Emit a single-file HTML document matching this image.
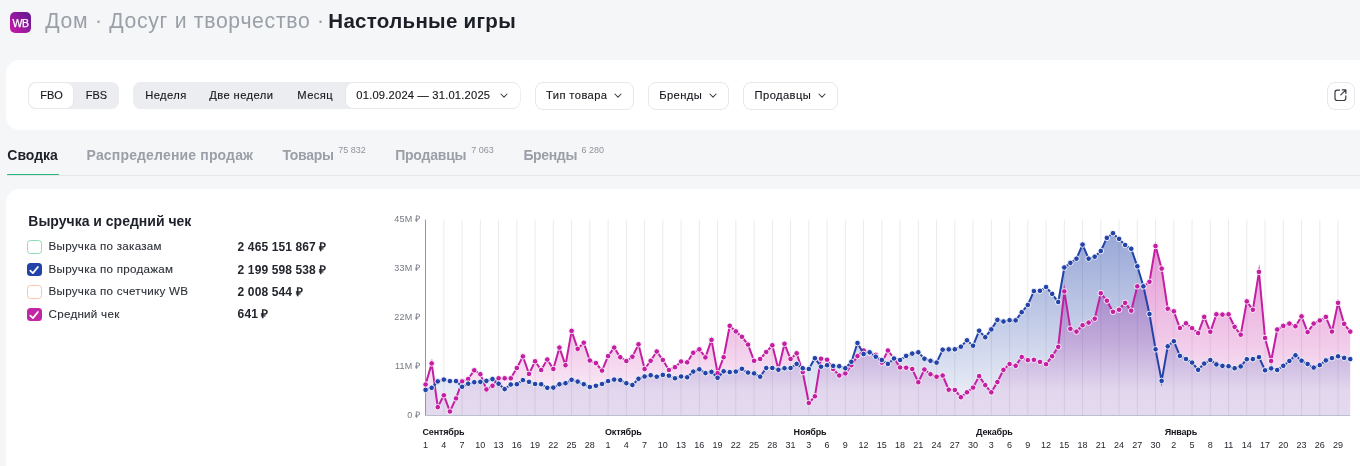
<!DOCTYPE html>
<html lang="ru"><head><meta charset="utf-8"><title>WB</title>
<style>
*{box-sizing:border-box;margin:0;padding:0}
html,body{width:1360px;height:466px;overflow:hidden;background:#f5f6f8;font-family:"Liberation Sans",Arial,sans-serif;color:#1f2229}
.a{position:absolute;white-space:nowrap}
.logo{left:10px;top:11.8px;width:21.3px;height:21.2px;border-radius:5px;background:linear-gradient(45deg,#cb1aa6 0%,#8e1a9c 55%,#5b1a8f 100%);color:#fff;font-weight:400;font-size:10.5px;line-height:23px;text-align:center;letter-spacing:-0.2px;-webkit-text-stroke:0.25px #fff}
.crumb{left:45.3px;top:8.6px;font-size:21.2px;line-height:24px;color:#9aa0a8;letter-spacing:0.7px}
.crumb2{left:328.3px;top:8.8px;font-size:20.5px;line-height:24px;color:#1c1f28;font-weight:700;letter-spacing:0.3px}
.card{background:#fff;border-radius:14px}
.seg{background:#ecedf1;border-radius:7.5px}
.btn{font-size:11.2px;line-height:14px;color:#15171c;letter-spacing:0.4px;-webkit-text-stroke:0.12px #15171c}
.wbtn{background:#fff;border-radius:7px}
.dd{background:#fff;border:1px solid #e7e8ec;border-radius:8px}
.chev{position:absolute}
.tab{font-size:14px;line-height:16px;font-weight:700;color:#9a9fa8}
.tab sup{position:absolute;font-size:9px;font-weight:400;line-height:10px;color:#8f949c}
.cb{width:14.2px;height:13.8px;border-radius:3.5px}
.lg{font-size:11.6px;line-height:14px;color:#2c3038;-webkit-text-stroke:0.1px #2c3038}
.lv{font-size:12px;line-height:14px;color:#23262d;font-weight:700;letter-spacing:0.12px}
.chart{position:absolute;left:0;top:0}
.yl{font-size:9px;fill:#737882;letter-spacing:0.25px;text-anchor:end;font-family:"Liberation Sans",Arial,sans-serif}
.xl{font-size:9px;fill:#25282e;text-anchor:middle;font-family:"Liberation Sans",Arial,sans-serif}
.ml{font-size:9px;fill:#15171c;font-weight:700;letter-spacing:-0.15px;font-family:"Liberation Sans",Arial,sans-serif}
</style></head><body>
<div class="a logo">WB</div>
<div class="a crumb">Дом · Досуг и творчество ·</div><div class="a crumb2">Настольные игры</div>

<div class="a card" style="left:6px;top:60.3px;width:1380px;height:69.9px"></div>
<div class="a seg" style="left:28px;top:82px;width:90.8px;height:27px"></div>
<div class="a wbtn" style="left:29.1px;top:83.1px;width:43.8px;height:24.8px;box-shadow:0 0 0 0.6px #e4e5e9"></div>
<div class="a btn" style="left:40.3px;top:88.2px;font-size:11px;letter-spacing:0">FBO</div>
<div class="a btn" style="left:85.8px;top:88.2px;font-size:11px;letter-spacing:0">FBS</div>

<div class="a seg" style="left:132.9px;top:82px;width:387.6px;height:27px"></div>
<div class="a btn" style="left:145.2px;top:88.2px">Неделя</div>
<div class="a btn" style="left:209.3px;top:88.2px">Две недели</div>
<div class="a btn" style="left:297.3px;top:88.2px">Месяц</div>
<div class="a wbtn" style="left:345.9px;top:83.2px;width:174px;height:24.6px;box-shadow:0 0 0 0.6px #e4e5e9"></div>
<div class="a btn" style="left:356.3px;top:88.2px;letter-spacing:0.2px">01.09.2024 — 31.01.2025</div>
<div class="a" style="left:500px;top:93.2px"><svg class="chev" width="8" height="5" viewBox="0 0 8 5"><path d="M0.9 1 L4 4.1 L7.1 1" fill="none" stroke="#3a3d44" stroke-width="1.05" stroke-linecap="round" stroke-linejoin="round"/></svg></div>

<div class="a dd" style="left:535.2px;top:81.7px;width:99.3px;height:27.9px"></div>
<div class="a btn" style="left:546px;top:88.2px">Тип товара</div>
<div class="a" style="left:614.2px;top:93.2px"><svg class="chev" width="8" height="5" viewBox="0 0 8 5"><path d="M0.9 1 L4 4.1 L7.1 1" fill="none" stroke="#3a3d44" stroke-width="1.05" stroke-linecap="round" stroke-linejoin="round"/></svg></div>
<div class="a dd" style="left:648.3px;top:81.7px;width:80.3px;height:27.9px"></div>
<div class="a btn" style="left:659.2px;top:88.2px">Бренды</div>
<div class="a" style="left:709.2px;top:93.2px"><svg class="chev" width="8" height="5" viewBox="0 0 8 5"><path d="M0.9 1 L4 4.1 L7.1 1" fill="none" stroke="#3a3d44" stroke-width="1.05" stroke-linecap="round" stroke-linejoin="round"/></svg></div>
<div class="a dd" style="left:743.2px;top:81.7px;width:94.6px;height:27.9px"></div>
<div class="a btn" style="left:754.6px;top:88.2px">Продавцы</div>
<div class="a" style="left:817.5px;top:93.2px"><svg class="chev" width="8" height="5" viewBox="0 0 8 5"><path d="M0.9 1 L4 4.1 L7.1 1" fill="none" stroke="#3a3d44" stroke-width="1.05" stroke-linecap="round" stroke-linejoin="round"/></svg></div>

<div class="a dd" style="left:1327.2px;top:81.8px;width:27.5px;height:28px"></div>
<svg class="a" style="left:1333.6px;top:89px" width="13" height="12.5" viewBox="0 0 13 12.5"><path d="M5.6 1.1 H3.2 A2.2 2.2 0 0 0 1 3.3 V9.3 A2.2 2.2 0 0 0 3.2 11.5 H9.6 A2.2 2.2 0 0 0 11.8 9.3 V6.9" fill="none" stroke="#383b41" stroke-width="1.2" stroke-linecap="round"/><path d="M6.8 5.9 L11.9 0.9 M8.3 0.9 H11.9 V4.5" fill="none" stroke="#383b41" stroke-width="1.2" stroke-linecap="round" stroke-linejoin="round"/></svg>

<div class="a tab" style="left:7.3px;top:146.5px;color:#1e212a">Сводка</div>
<div class="a" style="left:6.5px;top:175px;width:1360px;height:1px;background:#e5e6e9"></div>
<div class="a" style="left:6.5px;top:173.8px;width:52.2px;height:1.7px;border-radius:1px;background:#26ba78"></div>
<div class="a tab" style="left:86.6px;top:146.5px;letter-spacing:0.16px">Распределение продаж</div>
<div class="a tab" style="left:282.4px;top:146.5px;letter-spacing:-0.25px">Товары</div>
<div class="a tab" style="left:338.2px;top:144.6px;font-size:9px;font-weight:400;line-height:10px;color:#8f949c">75 832</div>
<div class="a tab" style="left:395.2px;top:146.5px;letter-spacing:-0.22px">Продавцы</div>
<div class="a tab" style="left:471.2px;top:144.6px;font-size:9px;font-weight:400;line-height:10px;color:#8f949c">7 063</div>
<div class="a tab" style="left:523.4px;top:146.5px;letter-spacing:-0.35px">Бренды</div>
<div class="a tab" style="left:581.4px;top:144.6px;font-size:9px;font-weight:400;line-height:10px;color:#8f949c">6 280</div>

<div class="a card" style="left:6px;top:189px;width:1380px;height:300px"></div>
<div class="a" style="left:28.3px;top:212.5px;font-size:14px;line-height:16px;font-weight:700;color:#1e212a">Выручка и средний чек</div>

<div class="a cb" style="left:27.4px;top:240px;border:1.2px solid #8ddcb3"></div>
<div class="a lg" style="left:48.6px;letter-spacing:0.27px;top:239.3px">Выручка по заказам</div>
<div class="a lv" style="left:237.6px;top:240px">2 465 151 867 ₽</div>

<div class="a cb" style="left:27.4px;top:262.6px;background:#2343a8"><svg width="14" height="14" viewBox="0 0 14 14"><path d="M3.3 7.6 L5.9 10.1 L10.9 4" fill="none" stroke="#fff" stroke-width="1.75" stroke-linecap="round" stroke-linejoin="round"/></svg></div>
<div class="a lg" style="left:48.6px;letter-spacing:0.27px;top:261.8px">Выручка по продажам</div>
<div class="a lv" style="left:237.6px;top:262.5px">2 199 598 538 ₽</div>

<div class="a cb" style="left:27.4px;top:285.1px;border:1.2px solid #f7c6ac"></div>
<div class="a lg" style="left:48.6px;letter-spacing:0.27px;top:284.3px">Выручка по счетчику WB</div>
<div class="a lv" style="left:237.6px;top:285px">2 008 544 ₽</div>

<div class="a cb" style="left:27.4px;top:307.5px;background:#c126a5"><svg width="14" height="14" viewBox="0 0 14 14"><path d="M3.3 7.6 L5.9 10.1 L10.9 4" fill="none" stroke="#fff" stroke-width="1.75" stroke-linecap="round" stroke-linejoin="round"/></svg></div>
<div class="a lg" style="left:48.6px;letter-spacing:0.27px;top:306.7px">Средний чек</div>
<div class="a lv" style="left:237.6px;top:307.4px">641 ₽</div>

<svg class="chart" width="1360" height="466" viewBox="0 0 1360 466">
<defs><linearGradient id="gb" gradientUnits="userSpaceOnUse" x1="0" y1="233" x2="0" y2="415"><stop offset="0" stop-color="#2343a8" stop-opacity="0.47"/><stop offset="0.615" stop-color="#2343a8" stop-opacity="0.22"/><stop offset="0.863" stop-color="#2343a8" stop-opacity="0.11"/><stop offset="1" stop-color="#2343a8" stop-opacity="0.1"/></linearGradient><linearGradient id="gm" gradientUnits="userSpaceOnUse" x1="0" y1="246" x2="0" y2="415"><stop offset="0" stop-color="#c41fa2" stop-opacity="0.45"/><stop offset="0.124" stop-color="#c41fa2" stop-opacity="0.40"/><stop offset="0.562" stop-color="#c41fa2" stop-opacity="0.24"/><stop offset="0.627" stop-color="#c41fa2" stop-opacity="0.21"/><stop offset="0.852" stop-color="#c41fa2" stop-opacity="0.10"/><stop offset="1" stop-color="#c41fa2" stop-opacity="0.09"/></linearGradient></defs>
<text x="420.6" y="222.1" class="yl">45M ₽</text>
<text x="420.6" y="271.0" class="yl">33M ₽</text>
<text x="420.6" y="319.8" class="yl">22M ₽</text>
<text x="420.6" y="368.7" class="yl">11M ₽</text>
<text x="420.6" y="417.5" class="yl">0 ₽</text>
<line x1="443.85" y1="219.6" x2="443.85" y2="415" stroke="#ebebee" stroke-width="1"/>
<line x1="462.10" y1="219.6" x2="462.10" y2="415" stroke="#ebebee" stroke-width="1"/>
<line x1="480.35" y1="219.6" x2="480.35" y2="415" stroke="#ebebee" stroke-width="1"/>
<line x1="498.60" y1="219.6" x2="498.60" y2="415" stroke="#ebebee" stroke-width="1"/>
<line x1="516.85" y1="219.6" x2="516.85" y2="415" stroke="#ebebee" stroke-width="1"/>
<line x1="535.09" y1="219.6" x2="535.09" y2="415" stroke="#ebebee" stroke-width="1"/>
<line x1="553.34" y1="219.6" x2="553.34" y2="415" stroke="#ebebee" stroke-width="1"/>
<line x1="571.59" y1="219.6" x2="571.59" y2="415" stroke="#ebebee" stroke-width="1"/>
<line x1="589.84" y1="219.6" x2="589.84" y2="415" stroke="#ebebee" stroke-width="1"/>
<line x1="608.09" y1="219.6" x2="608.09" y2="415" stroke="#ebebee" stroke-width="1"/>
<line x1="626.34" y1="219.6" x2="626.34" y2="415" stroke="#ebebee" stroke-width="1"/>
<line x1="644.59" y1="219.6" x2="644.59" y2="415" stroke="#ebebee" stroke-width="1"/>
<line x1="662.84" y1="219.6" x2="662.84" y2="415" stroke="#ebebee" stroke-width="1"/>
<line x1="681.09" y1="219.6" x2="681.09" y2="415" stroke="#ebebee" stroke-width="1"/>
<line x1="699.34" y1="219.6" x2="699.34" y2="415" stroke="#ebebee" stroke-width="1"/>
<line x1="717.58" y1="219.6" x2="717.58" y2="415" stroke="#ebebee" stroke-width="1"/>
<line x1="735.83" y1="219.6" x2="735.83" y2="415" stroke="#ebebee" stroke-width="1"/>
<line x1="754.08" y1="219.6" x2="754.08" y2="415" stroke="#ebebee" stroke-width="1"/>
<line x1="772.33" y1="219.6" x2="772.33" y2="415" stroke="#ebebee" stroke-width="1"/>
<line x1="790.58" y1="219.6" x2="790.58" y2="415" stroke="#ebebee" stroke-width="1"/>
<line x1="808.83" y1="219.6" x2="808.83" y2="415" stroke="#ebebee" stroke-width="1"/>
<line x1="827.08" y1="219.6" x2="827.08" y2="415" stroke="#ebebee" stroke-width="1"/>
<line x1="845.33" y1="219.6" x2="845.33" y2="415" stroke="#ebebee" stroke-width="1"/>
<line x1="863.58" y1="219.6" x2="863.58" y2="415" stroke="#ebebee" stroke-width="1"/>
<line x1="881.83" y1="219.6" x2="881.83" y2="415" stroke="#ebebee" stroke-width="1"/>
<line x1="900.07" y1="219.6" x2="900.07" y2="415" stroke="#ebebee" stroke-width="1"/>
<line x1="918.32" y1="219.6" x2="918.32" y2="415" stroke="#ebebee" stroke-width="1"/>
<line x1="936.57" y1="219.6" x2="936.57" y2="415" stroke="#ebebee" stroke-width="1"/>
<line x1="954.82" y1="219.6" x2="954.82" y2="415" stroke="#ebebee" stroke-width="1"/>
<line x1="973.07" y1="219.6" x2="973.07" y2="415" stroke="#ebebee" stroke-width="1"/>
<line x1="991.32" y1="219.6" x2="991.32" y2="415" stroke="#ebebee" stroke-width="1"/>
<line x1="1009.57" y1="219.6" x2="1009.57" y2="415" stroke="#ebebee" stroke-width="1"/>
<line x1="1027.82" y1="219.6" x2="1027.82" y2="415" stroke="#ebebee" stroke-width="1"/>
<line x1="1046.07" y1="219.6" x2="1046.07" y2="415" stroke="#ebebee" stroke-width="1"/>
<line x1="1064.32" y1="219.6" x2="1064.32" y2="415" stroke="#ebebee" stroke-width="1"/>
<line x1="1082.56" y1="219.6" x2="1082.56" y2="415" stroke="#ebebee" stroke-width="1"/>
<line x1="1100.81" y1="219.6" x2="1100.81" y2="415" stroke="#ebebee" stroke-width="1"/>
<line x1="1119.06" y1="219.6" x2="1119.06" y2="415" stroke="#ebebee" stroke-width="1"/>
<line x1="1137.31" y1="219.6" x2="1137.31" y2="415" stroke="#ebebee" stroke-width="1"/>
<line x1="1155.56" y1="219.6" x2="1155.56" y2="415" stroke="#ebebee" stroke-width="1"/>
<line x1="1173.81" y1="219.6" x2="1173.81" y2="415" stroke="#ebebee" stroke-width="1"/>
<line x1="1192.06" y1="219.6" x2="1192.06" y2="415" stroke="#ebebee" stroke-width="1"/>
<line x1="1210.31" y1="219.6" x2="1210.31" y2="415" stroke="#ebebee" stroke-width="1"/>
<line x1="1228.56" y1="219.6" x2="1228.56" y2="415" stroke="#ebebee" stroke-width="1"/>
<line x1="1246.81" y1="219.6" x2="1246.81" y2="415" stroke="#ebebee" stroke-width="1"/>
<line x1="1265.05" y1="219.6" x2="1265.05" y2="415" stroke="#ebebee" stroke-width="1"/>
<line x1="1283.30" y1="219.6" x2="1283.30" y2="415" stroke="#ebebee" stroke-width="1"/>
<line x1="1301.55" y1="219.6" x2="1301.55" y2="415" stroke="#ebebee" stroke-width="1"/>
<line x1="1319.80" y1="219.6" x2="1319.80" y2="415" stroke="#ebebee" stroke-width="1"/>
<line x1="1338.05" y1="219.6" x2="1338.05" y2="415" stroke="#ebebee" stroke-width="1"/>
<polygon points="425.60,415.0 425.60,384.5 431.68,363.4 437.77,407.1 443.85,395.3 449.93,411.5 456.02,398.4 462.10,381.4 468.18,379.0 474.26,370.3 480.35,374.2 486.43,389.4 492.51,385.8 498.60,378.3 504.68,378.3 510.76,378.3 516.85,368.0 522.93,356.4 529.01,373.9 535.09,361.3 541.18,370.0 547.26,359.5 553.34,369.0 559.43,347.6 565.51,365.2 571.59,330.9 577.68,348.9 583.76,342.7 589.84,360.5 595.92,363.1 602.01,370.6 608.09,356.1 614.17,347.6 620.26,357.2 626.34,361.0 632.42,356.7 638.50,344.3 644.59,369.0 650.67,360.8 656.75,351.5 662.84,360.0 668.92,370.0 675.00,367.2 681.09,361.5 687.17,362.3 693.25,352.8 699.34,349.4 705.42,357.4 711.50,339.9 717.58,373.1 723.67,357.2 729.75,325.8 735.83,331.4 741.92,336.8 748.00,344.6 754.08,360.8 760.16,359.0 766.25,352.0 772.33,345.3 778.41,369.3 784.50,343.8 790.58,359.0 796.66,353.3 802.75,372.1 808.83,403.0 814.91,396.3 821.00,358.7 827.08,359.7 833.16,369.0 839.24,375.5 845.33,373.4 851.41,365.2 857.49,356.1 863.58,350.5 869.66,352.8 875.74,354.9 881.83,362.6 887.91,350.5 893.99,358.0 900.07,367.5 906.16,367.7 912.24,369.0 918.32,382.2 924.41,369.5 930.49,374.2 936.57,376.7 942.66,375.5 948.74,389.7 954.82,390.0 960.90,397.2 966.99,392.3 973.07,387.6 979.15,376.1 985.24,385.1 991.32,392.3 997.40,382.0 1003.49,369.9 1009.57,364.0 1015.65,365.8 1021.73,357.0 1027.82,360.1 1033.90,359.8 1039.98,361.9 1046.07,364.2 1052.15,356.2 1058.23,346.9 1064.32,291.4 1070.40,328.8 1076.48,331.6 1082.56,325.2 1088.65,322.6 1094.73,318.7 1100.81,293.2 1106.90,300.7 1112.98,311.8 1119.06,309.7 1125.14,302.9 1131.23,310.7 1137.31,286.3 1143.39,286.5 1149.48,281.8 1155.56,246.0 1161.64,268.6 1167.73,308.7 1173.81,311.3 1179.89,328.0 1185.97,323.3 1192.06,328.2 1198.14,333.1 1204.22,316.9 1210.31,331.8 1216.39,314.3 1222.47,314.6 1228.56,314.3 1234.64,326.9 1240.72,334.7 1246.81,301.4 1252.89,309.8 1258.97,271.9 1265.05,338.0 1271.14,361.0 1277.22,329.5 1283.30,325.9 1289.39,323.6 1295.47,326.2 1301.55,316.4 1307.64,332.1 1313.72,323.6 1319.80,320.5 1325.88,316.9 1331.97,331.6 1338.05,302.8 1344.13,323.9 1350.22,331.6 1350.22,415.0" fill="url(#gm)"/>
<polygon points="425.60,415.0 425.60,389.9 431.68,387.8 437.77,381.4 443.85,379.6 449.93,381.1 456.02,381.1 462.10,386.8 468.18,383.7 474.26,382.2 480.35,381.9 486.43,380.9 492.51,379.1 498.60,383.7 504.68,389.1 510.76,384.5 516.85,384.2 522.93,380.1 529.01,381.9 535.09,384.0 541.18,384.2 547.26,387.8 553.34,387.6 559.43,384.2 565.51,383.2 571.59,379.8 577.68,381.6 583.76,384.2 589.84,387.0 595.92,385.8 602.01,384.0 608.09,381.1 614.17,379.6 620.26,380.1 626.34,383.2 632.42,385.0 638.50,378.8 644.59,376.5 650.67,375.2 656.75,376.7 662.84,374.9 668.92,375.7 675.00,378.3 681.09,376.5 687.17,377.3 693.25,371.6 699.34,369.3 705.42,373.1 711.50,371.9 717.58,377.8 723.67,371.3 729.75,372.1 735.83,371.6 741.92,368.8 748.00,372.6 754.08,373.4 760.16,376.7 766.25,368.0 772.33,368.0 778.41,369.8 784.50,368.2 790.58,368.0 796.66,363.9 802.75,368.2 808.83,369.0 814.91,358.2 821.00,366.7 827.08,365.2 833.16,365.9 839.24,366.2 845.33,368.2 851.41,361.8 857.49,343.0 863.58,354.0 869.66,352.3 875.74,356.7 881.83,360.0 887.91,363.9 893.99,358.5 900.07,360.0 906.16,355.9 912.24,353.6 918.32,352.3 924.41,358.7 930.49,360.8 936.57,362.6 942.66,349.7 948.74,349.4 954.82,349.3 960.90,346.7 966.99,340.3 973.07,345.7 979.15,330.7 985.24,337.2 991.32,329.4 997.40,319.9 1003.49,321.5 1009.57,320.2 1015.65,320.4 1021.73,312.2 1027.82,305.0 1033.90,291.1 1039.98,290.8 1046.07,287.0 1052.15,293.9 1058.23,302.0 1064.32,267.5 1070.40,262.9 1076.48,258.7 1082.56,244.6 1088.65,258.7 1094.73,256.7 1100.81,251.0 1106.90,237.9 1112.98,233.2 1119.06,238.9 1125.14,245.0 1131.23,248.8 1137.31,266.3 1143.39,286.3 1149.48,314.0 1155.56,349.3 1161.64,380.9 1167.73,346.3 1173.81,341.2 1179.89,355.9 1185.97,359.0 1192.06,362.6 1198.14,369.8 1204.22,363.6 1210.31,360.0 1216.39,364.4 1222.47,365.9 1228.56,366.2 1234.64,368.2 1240.72,366.4 1246.81,359.2 1252.89,359.1 1258.97,357.1 1265.05,370.3 1271.14,368.4 1277.22,370.0 1283.30,365.8 1289.39,361.0 1295.47,355.3 1301.55,360.7 1307.64,364.0 1313.72,367.6 1319.80,365.1 1325.88,360.4 1331.97,358.1 1338.05,356.3 1344.13,357.9 1350.22,359.1 1350.22,415.0" fill="url(#gb)"/>
<line x1="425.5" y1="219.6" x2="425.5" y2="415.5" stroke="#8e97a8" stroke-width="1"/>
<line x1="425" y1="415.5" x2="1350.2" y2="415.5" stroke="#b9c0cc" stroke-width="1"/>
<polyline points="425.60,384.5 431.68,363.4 437.77,407.1 443.85,395.3 449.93,411.5 456.02,398.4 462.10,381.4 468.18,379.0 474.26,370.3 480.35,374.2 486.43,389.4 492.51,385.8 498.60,378.3 504.68,378.3 510.76,378.3 516.85,368.0 522.93,356.4 529.01,373.9 535.09,361.3 541.18,370.0 547.26,359.5 553.34,369.0 559.43,347.6 565.51,365.2 571.59,330.9 577.68,348.9 583.76,342.7 589.84,360.5 595.92,363.1 602.01,370.6 608.09,356.1 614.17,347.6 620.26,357.2 626.34,361.0 632.42,356.7 638.50,344.3 644.59,369.0 650.67,360.8 656.75,351.5 662.84,360.0 668.92,370.0 675.00,367.2 681.09,361.5 687.17,362.3 693.25,352.8 699.34,349.4 705.42,357.4 711.50,339.9 717.58,373.1 723.67,357.2 729.75,325.8 735.83,331.4 741.92,336.8 748.00,344.6 754.08,360.8 760.16,359.0 766.25,352.0 772.33,345.3 778.41,369.3 784.50,343.8 790.58,359.0 796.66,353.3 802.75,372.1 808.83,403.0 814.91,396.3 821.00,358.7 827.08,359.7 833.16,369.0 839.24,375.5 845.33,373.4 851.41,365.2 857.49,356.1 863.58,350.5 869.66,352.8 875.74,354.9 881.83,362.6 887.91,350.5 893.99,358.0 900.07,367.5 906.16,367.7 912.24,369.0 918.32,382.2 924.41,369.5 930.49,374.2 936.57,376.7 942.66,375.5 948.74,389.7 954.82,390.0 960.90,397.2 966.99,392.3 973.07,387.6 979.15,376.1 985.24,385.1 991.32,392.3 997.40,382.0 1003.49,369.9 1009.57,364.0 1015.65,365.8 1021.73,357.0 1027.82,360.1 1033.90,359.8 1039.98,361.9 1046.07,364.2 1052.15,356.2 1058.23,346.9 1064.32,291.4 1070.40,328.8 1076.48,331.6 1082.56,325.2 1088.65,322.6 1094.73,318.7 1100.81,293.2 1106.90,300.7 1112.98,311.8 1119.06,309.7 1125.14,302.9 1131.23,310.7 1137.31,286.3 1143.39,286.5 1149.48,281.8 1155.56,246.0 1161.64,268.6 1167.73,308.7 1173.81,311.3 1179.89,328.0 1185.97,323.3 1192.06,328.2 1198.14,333.1 1204.22,316.9 1210.31,331.8 1216.39,314.3 1222.47,314.6 1228.56,314.3 1234.64,326.9 1240.72,334.7 1246.81,301.4 1252.89,309.8 1258.97,271.9 1265.05,338.0 1271.14,361.0 1277.22,329.5 1283.30,325.9 1289.39,323.6 1295.47,326.2 1301.55,316.4 1307.64,332.1 1313.72,323.6 1319.80,320.5 1325.88,316.9 1331.97,331.6 1338.05,302.8 1344.13,323.9 1350.22,331.6" fill="none" stroke="#c41fa2" stroke-width="2" stroke-linejoin="miter" stroke-miterlimit="10"/>
<circle cx="425.60" cy="384.5" r="2.8" fill="#c41fa2" stroke="#fff" stroke-width="0.9"/>
<circle cx="431.68" cy="363.4" r="2.8" fill="#c41fa2" stroke="#fff" stroke-width="0.9"/>
<circle cx="437.77" cy="407.1" r="2.8" fill="#c41fa2" stroke="#fff" stroke-width="0.9"/>
<circle cx="443.85" cy="395.3" r="2.8" fill="#c41fa2" stroke="#fff" stroke-width="0.9"/>
<circle cx="449.93" cy="411.5" r="2.8" fill="#c41fa2" stroke="#fff" stroke-width="0.9"/>
<circle cx="456.02" cy="398.4" r="2.8" fill="#c41fa2" stroke="#fff" stroke-width="0.9"/>
<circle cx="462.10" cy="381.4" r="2.8" fill="#c41fa2" stroke="#fff" stroke-width="0.9"/>
<circle cx="468.18" cy="379.0" r="2.8" fill="#c41fa2" stroke="#fff" stroke-width="0.9"/>
<circle cx="474.26" cy="370.3" r="2.8" fill="#c41fa2" stroke="#fff" stroke-width="0.9"/>
<circle cx="480.35" cy="374.2" r="2.8" fill="#c41fa2" stroke="#fff" stroke-width="0.9"/>
<circle cx="486.43" cy="389.4" r="2.8" fill="#c41fa2" stroke="#fff" stroke-width="0.9"/>
<circle cx="492.51" cy="385.8" r="2.8" fill="#c41fa2" stroke="#fff" stroke-width="0.9"/>
<circle cx="498.60" cy="378.3" r="2.8" fill="#c41fa2" stroke="#fff" stroke-width="0.9"/>
<circle cx="504.68" cy="378.3" r="2.8" fill="#c41fa2" stroke="#fff" stroke-width="0.9"/>
<circle cx="510.76" cy="378.3" r="2.8" fill="#c41fa2" stroke="#fff" stroke-width="0.9"/>
<circle cx="516.85" cy="368.0" r="2.8" fill="#c41fa2" stroke="#fff" stroke-width="0.9"/>
<circle cx="522.93" cy="356.4" r="2.8" fill="#c41fa2" stroke="#fff" stroke-width="0.9"/>
<circle cx="529.01" cy="373.9" r="2.8" fill="#c41fa2" stroke="#fff" stroke-width="0.9"/>
<circle cx="535.09" cy="361.3" r="2.8" fill="#c41fa2" stroke="#fff" stroke-width="0.9"/>
<circle cx="541.18" cy="370.0" r="2.8" fill="#c41fa2" stroke="#fff" stroke-width="0.9"/>
<circle cx="547.26" cy="359.5" r="2.8" fill="#c41fa2" stroke="#fff" stroke-width="0.9"/>
<circle cx="553.34" cy="369.0" r="2.8" fill="#c41fa2" stroke="#fff" stroke-width="0.9"/>
<circle cx="559.43" cy="347.6" r="2.8" fill="#c41fa2" stroke="#fff" stroke-width="0.9"/>
<circle cx="565.51" cy="365.2" r="2.8" fill="#c41fa2" stroke="#fff" stroke-width="0.9"/>
<circle cx="571.59" cy="330.9" r="2.8" fill="#c41fa2" stroke="#fff" stroke-width="0.9"/>
<circle cx="577.68" cy="348.9" r="2.8" fill="#c41fa2" stroke="#fff" stroke-width="0.9"/>
<circle cx="583.76" cy="342.7" r="2.8" fill="#c41fa2" stroke="#fff" stroke-width="0.9"/>
<circle cx="589.84" cy="360.5" r="2.8" fill="#c41fa2" stroke="#fff" stroke-width="0.9"/>
<circle cx="595.92" cy="363.1" r="2.8" fill="#c41fa2" stroke="#fff" stroke-width="0.9"/>
<circle cx="602.01" cy="370.6" r="2.8" fill="#c41fa2" stroke="#fff" stroke-width="0.9"/>
<circle cx="608.09" cy="356.1" r="2.8" fill="#c41fa2" stroke="#fff" stroke-width="0.9"/>
<circle cx="614.17" cy="347.6" r="2.8" fill="#c41fa2" stroke="#fff" stroke-width="0.9"/>
<circle cx="620.26" cy="357.2" r="2.8" fill="#c41fa2" stroke="#fff" stroke-width="0.9"/>
<circle cx="626.34" cy="361.0" r="2.8" fill="#c41fa2" stroke="#fff" stroke-width="0.9"/>
<circle cx="632.42" cy="356.7" r="2.8" fill="#c41fa2" stroke="#fff" stroke-width="0.9"/>
<circle cx="638.50" cy="344.3" r="2.8" fill="#c41fa2" stroke="#fff" stroke-width="0.9"/>
<circle cx="644.59" cy="369.0" r="2.8" fill="#c41fa2" stroke="#fff" stroke-width="0.9"/>
<circle cx="650.67" cy="360.8" r="2.8" fill="#c41fa2" stroke="#fff" stroke-width="0.9"/>
<circle cx="656.75" cy="351.5" r="2.8" fill="#c41fa2" stroke="#fff" stroke-width="0.9"/>
<circle cx="662.84" cy="360.0" r="2.8" fill="#c41fa2" stroke="#fff" stroke-width="0.9"/>
<circle cx="668.92" cy="370.0" r="2.8" fill="#c41fa2" stroke="#fff" stroke-width="0.9"/>
<circle cx="675.00" cy="367.2" r="2.8" fill="#c41fa2" stroke="#fff" stroke-width="0.9"/>
<circle cx="681.09" cy="361.5" r="2.8" fill="#c41fa2" stroke="#fff" stroke-width="0.9"/>
<circle cx="687.17" cy="362.3" r="2.8" fill="#c41fa2" stroke="#fff" stroke-width="0.9"/>
<circle cx="693.25" cy="352.8" r="2.8" fill="#c41fa2" stroke="#fff" stroke-width="0.9"/>
<circle cx="699.34" cy="349.4" r="2.8" fill="#c41fa2" stroke="#fff" stroke-width="0.9"/>
<circle cx="705.42" cy="357.4" r="2.8" fill="#c41fa2" stroke="#fff" stroke-width="0.9"/>
<circle cx="711.50" cy="339.9" r="2.8" fill="#c41fa2" stroke="#fff" stroke-width="0.9"/>
<circle cx="717.58" cy="373.1" r="2.8" fill="#c41fa2" stroke="#fff" stroke-width="0.9"/>
<circle cx="723.67" cy="357.2" r="2.8" fill="#c41fa2" stroke="#fff" stroke-width="0.9"/>
<circle cx="729.75" cy="325.8" r="2.8" fill="#c41fa2" stroke="#fff" stroke-width="0.9"/>
<circle cx="735.83" cy="331.4" r="2.8" fill="#c41fa2" stroke="#fff" stroke-width="0.9"/>
<circle cx="741.92" cy="336.8" r="2.8" fill="#c41fa2" stroke="#fff" stroke-width="0.9"/>
<circle cx="748.00" cy="344.6" r="2.8" fill="#c41fa2" stroke="#fff" stroke-width="0.9"/>
<circle cx="754.08" cy="360.8" r="2.8" fill="#c41fa2" stroke="#fff" stroke-width="0.9"/>
<circle cx="760.16" cy="359.0" r="2.8" fill="#c41fa2" stroke="#fff" stroke-width="0.9"/>
<circle cx="766.25" cy="352.0" r="2.8" fill="#c41fa2" stroke="#fff" stroke-width="0.9"/>
<circle cx="772.33" cy="345.3" r="2.8" fill="#c41fa2" stroke="#fff" stroke-width="0.9"/>
<circle cx="778.41" cy="369.3" r="2.8" fill="#c41fa2" stroke="#fff" stroke-width="0.9"/>
<circle cx="784.50" cy="343.8" r="2.8" fill="#c41fa2" stroke="#fff" stroke-width="0.9"/>
<circle cx="790.58" cy="359.0" r="2.8" fill="#c41fa2" stroke="#fff" stroke-width="0.9"/>
<circle cx="796.66" cy="353.3" r="2.8" fill="#c41fa2" stroke="#fff" stroke-width="0.9"/>
<circle cx="802.75" cy="372.1" r="2.8" fill="#c41fa2" stroke="#fff" stroke-width="0.9"/>
<circle cx="808.83" cy="403.0" r="2.8" fill="#c41fa2" stroke="#fff" stroke-width="0.9"/>
<circle cx="814.91" cy="396.3" r="2.8" fill="#c41fa2" stroke="#fff" stroke-width="0.9"/>
<circle cx="821.00" cy="358.7" r="2.8" fill="#c41fa2" stroke="#fff" stroke-width="0.9"/>
<circle cx="827.08" cy="359.7" r="2.8" fill="#c41fa2" stroke="#fff" stroke-width="0.9"/>
<circle cx="833.16" cy="369.0" r="2.8" fill="#c41fa2" stroke="#fff" stroke-width="0.9"/>
<circle cx="839.24" cy="375.5" r="2.8" fill="#c41fa2" stroke="#fff" stroke-width="0.9"/>
<circle cx="845.33" cy="373.4" r="2.8" fill="#c41fa2" stroke="#fff" stroke-width="0.9"/>
<circle cx="851.41" cy="365.2" r="2.8" fill="#c41fa2" stroke="#fff" stroke-width="0.9"/>
<circle cx="857.49" cy="356.1" r="2.8" fill="#c41fa2" stroke="#fff" stroke-width="0.9"/>
<circle cx="863.58" cy="350.5" r="2.8" fill="#c41fa2" stroke="#fff" stroke-width="0.9"/>
<circle cx="869.66" cy="352.8" r="2.8" fill="#c41fa2" stroke="#fff" stroke-width="0.9"/>
<circle cx="875.74" cy="354.9" r="2.8" fill="#c41fa2" stroke="#fff" stroke-width="0.9"/>
<circle cx="881.83" cy="362.6" r="2.8" fill="#c41fa2" stroke="#fff" stroke-width="0.9"/>
<circle cx="887.91" cy="350.5" r="2.8" fill="#c41fa2" stroke="#fff" stroke-width="0.9"/>
<circle cx="893.99" cy="358.0" r="2.8" fill="#c41fa2" stroke="#fff" stroke-width="0.9"/>
<circle cx="900.07" cy="367.5" r="2.8" fill="#c41fa2" stroke="#fff" stroke-width="0.9"/>
<circle cx="906.16" cy="367.7" r="2.8" fill="#c41fa2" stroke="#fff" stroke-width="0.9"/>
<circle cx="912.24" cy="369.0" r="2.8" fill="#c41fa2" stroke="#fff" stroke-width="0.9"/>
<circle cx="918.32" cy="382.2" r="2.8" fill="#c41fa2" stroke="#fff" stroke-width="0.9"/>
<circle cx="924.41" cy="369.5" r="2.8" fill="#c41fa2" stroke="#fff" stroke-width="0.9"/>
<circle cx="930.49" cy="374.2" r="2.8" fill="#c41fa2" stroke="#fff" stroke-width="0.9"/>
<circle cx="936.57" cy="376.7" r="2.8" fill="#c41fa2" stroke="#fff" stroke-width="0.9"/>
<circle cx="942.66" cy="375.5" r="2.8" fill="#c41fa2" stroke="#fff" stroke-width="0.9"/>
<circle cx="948.74" cy="389.7" r="2.8" fill="#c41fa2" stroke="#fff" stroke-width="0.9"/>
<circle cx="954.82" cy="390.0" r="2.8" fill="#c41fa2" stroke="#fff" stroke-width="0.9"/>
<circle cx="960.90" cy="397.2" r="2.8" fill="#c41fa2" stroke="#fff" stroke-width="0.9"/>
<circle cx="966.99" cy="392.3" r="2.8" fill="#c41fa2" stroke="#fff" stroke-width="0.9"/>
<circle cx="973.07" cy="387.6" r="2.8" fill="#c41fa2" stroke="#fff" stroke-width="0.9"/>
<circle cx="979.15" cy="376.1" r="2.8" fill="#c41fa2" stroke="#fff" stroke-width="0.9"/>
<circle cx="985.24" cy="385.1" r="2.8" fill="#c41fa2" stroke="#fff" stroke-width="0.9"/>
<circle cx="991.32" cy="392.3" r="2.8" fill="#c41fa2" stroke="#fff" stroke-width="0.9"/>
<circle cx="997.40" cy="382.0" r="2.8" fill="#c41fa2" stroke="#fff" stroke-width="0.9"/>
<circle cx="1003.49" cy="369.9" r="2.8" fill="#c41fa2" stroke="#fff" stroke-width="0.9"/>
<circle cx="1009.57" cy="364.0" r="2.8" fill="#c41fa2" stroke="#fff" stroke-width="0.9"/>
<circle cx="1015.65" cy="365.8" r="2.8" fill="#c41fa2" stroke="#fff" stroke-width="0.9"/>
<circle cx="1021.73" cy="357.0" r="2.8" fill="#c41fa2" stroke="#fff" stroke-width="0.9"/>
<circle cx="1027.82" cy="360.1" r="2.8" fill="#c41fa2" stroke="#fff" stroke-width="0.9"/>
<circle cx="1033.90" cy="359.8" r="2.8" fill="#c41fa2" stroke="#fff" stroke-width="0.9"/>
<circle cx="1039.98" cy="361.9" r="2.8" fill="#c41fa2" stroke="#fff" stroke-width="0.9"/>
<circle cx="1046.07" cy="364.2" r="2.8" fill="#c41fa2" stroke="#fff" stroke-width="0.9"/>
<circle cx="1052.15" cy="356.2" r="2.8" fill="#c41fa2" stroke="#fff" stroke-width="0.9"/>
<circle cx="1058.23" cy="346.9" r="2.8" fill="#c41fa2" stroke="#fff" stroke-width="0.9"/>
<circle cx="1064.32" cy="291.4" r="2.8" fill="#c41fa2" stroke="#fff" stroke-width="0.9"/>
<circle cx="1070.40" cy="328.8" r="2.8" fill="#c41fa2" stroke="#fff" stroke-width="0.9"/>
<circle cx="1076.48" cy="331.6" r="2.8" fill="#c41fa2" stroke="#fff" stroke-width="0.9"/>
<circle cx="1082.56" cy="325.2" r="2.8" fill="#c41fa2" stroke="#fff" stroke-width="0.9"/>
<circle cx="1088.65" cy="322.6" r="2.8" fill="#c41fa2" stroke="#fff" stroke-width="0.9"/>
<circle cx="1094.73" cy="318.7" r="2.8" fill="#c41fa2" stroke="#fff" stroke-width="0.9"/>
<circle cx="1100.81" cy="293.2" r="2.8" fill="#c41fa2" stroke="#fff" stroke-width="0.9"/>
<circle cx="1106.90" cy="300.7" r="2.8" fill="#c41fa2" stroke="#fff" stroke-width="0.9"/>
<circle cx="1112.98" cy="311.8" r="2.8" fill="#c41fa2" stroke="#fff" stroke-width="0.9"/>
<circle cx="1119.06" cy="309.7" r="2.8" fill="#c41fa2" stroke="#fff" stroke-width="0.9"/>
<circle cx="1125.14" cy="302.9" r="2.8" fill="#c41fa2" stroke="#fff" stroke-width="0.9"/>
<circle cx="1131.23" cy="310.7" r="2.8" fill="#c41fa2" stroke="#fff" stroke-width="0.9"/>
<circle cx="1137.31" cy="286.3" r="2.8" fill="#c41fa2" stroke="#fff" stroke-width="0.9"/>
<circle cx="1143.39" cy="286.5" r="2.8" fill="#c41fa2" stroke="#fff" stroke-width="0.9"/>
<circle cx="1149.48" cy="281.8" r="2.8" fill="#c41fa2" stroke="#fff" stroke-width="0.9"/>
<circle cx="1155.56" cy="246.0" r="2.8" fill="#c41fa2" stroke="#fff" stroke-width="0.9"/>
<circle cx="1161.64" cy="268.6" r="2.8" fill="#c41fa2" stroke="#fff" stroke-width="0.9"/>
<circle cx="1167.73" cy="308.7" r="2.8" fill="#c41fa2" stroke="#fff" stroke-width="0.9"/>
<circle cx="1173.81" cy="311.3" r="2.8" fill="#c41fa2" stroke="#fff" stroke-width="0.9"/>
<circle cx="1179.89" cy="328.0" r="2.8" fill="#c41fa2" stroke="#fff" stroke-width="0.9"/>
<circle cx="1185.97" cy="323.3" r="2.8" fill="#c41fa2" stroke="#fff" stroke-width="0.9"/>
<circle cx="1192.06" cy="328.2" r="2.8" fill="#c41fa2" stroke="#fff" stroke-width="0.9"/>
<circle cx="1198.14" cy="333.1" r="2.8" fill="#c41fa2" stroke="#fff" stroke-width="0.9"/>
<circle cx="1204.22" cy="316.9" r="2.8" fill="#c41fa2" stroke="#fff" stroke-width="0.9"/>
<circle cx="1210.31" cy="331.8" r="2.8" fill="#c41fa2" stroke="#fff" stroke-width="0.9"/>
<circle cx="1216.39" cy="314.3" r="2.8" fill="#c41fa2" stroke="#fff" stroke-width="0.9"/>
<circle cx="1222.47" cy="314.6" r="2.8" fill="#c41fa2" stroke="#fff" stroke-width="0.9"/>
<circle cx="1228.56" cy="314.3" r="2.8" fill="#c41fa2" stroke="#fff" stroke-width="0.9"/>
<circle cx="1234.64" cy="326.9" r="2.8" fill="#c41fa2" stroke="#fff" stroke-width="0.9"/>
<circle cx="1240.72" cy="334.7" r="2.8" fill="#c41fa2" stroke="#fff" stroke-width="0.9"/>
<circle cx="1246.81" cy="301.4" r="2.8" fill="#c41fa2" stroke="#fff" stroke-width="0.9"/>
<circle cx="1252.89" cy="309.8" r="2.8" fill="#c41fa2" stroke="#fff" stroke-width="0.9"/>
<circle cx="1258.97" cy="271.9" r="2.8" fill="#c41fa2" stroke="#fff" stroke-width="0.9"/>
<circle cx="1265.05" cy="338.0" r="2.8" fill="#c41fa2" stroke="#fff" stroke-width="0.9"/>
<circle cx="1271.14" cy="361.0" r="2.8" fill="#c41fa2" stroke="#fff" stroke-width="0.9"/>
<circle cx="1277.22" cy="329.5" r="2.8" fill="#c41fa2" stroke="#fff" stroke-width="0.9"/>
<circle cx="1283.30" cy="325.9" r="2.8" fill="#c41fa2" stroke="#fff" stroke-width="0.9"/>
<circle cx="1289.39" cy="323.6" r="2.8" fill="#c41fa2" stroke="#fff" stroke-width="0.9"/>
<circle cx="1295.47" cy="326.2" r="2.8" fill="#c41fa2" stroke="#fff" stroke-width="0.9"/>
<circle cx="1301.55" cy="316.4" r="2.8" fill="#c41fa2" stroke="#fff" stroke-width="0.9"/>
<circle cx="1307.64" cy="332.1" r="2.8" fill="#c41fa2" stroke="#fff" stroke-width="0.9"/>
<circle cx="1313.72" cy="323.6" r="2.8" fill="#c41fa2" stroke="#fff" stroke-width="0.9"/>
<circle cx="1319.80" cy="320.5" r="2.8" fill="#c41fa2" stroke="#fff" stroke-width="0.9"/>
<circle cx="1325.88" cy="316.9" r="2.8" fill="#c41fa2" stroke="#fff" stroke-width="0.9"/>
<circle cx="1331.97" cy="331.6" r="2.8" fill="#c41fa2" stroke="#fff" stroke-width="0.9"/>
<circle cx="1338.05" cy="302.8" r="2.8" fill="#c41fa2" stroke="#fff" stroke-width="0.9"/>
<circle cx="1344.13" cy="323.9" r="2.8" fill="#c41fa2" stroke="#fff" stroke-width="0.9"/>
<circle cx="1350.22" cy="331.6" r="2.8" fill="#c41fa2" stroke="#fff" stroke-width="0.9"/>
<polyline points="425.60,389.9 431.68,387.8 437.77,381.4 443.85,379.6 449.93,381.1 456.02,381.1 462.10,386.8 468.18,383.7 474.26,382.2 480.35,381.9 486.43,380.9 492.51,379.1 498.60,383.7 504.68,389.1 510.76,384.5 516.85,384.2 522.93,380.1 529.01,381.9 535.09,384.0 541.18,384.2 547.26,387.8 553.34,387.6 559.43,384.2 565.51,383.2 571.59,379.8 577.68,381.6 583.76,384.2 589.84,387.0 595.92,385.8 602.01,384.0 608.09,381.1 614.17,379.6 620.26,380.1 626.34,383.2 632.42,385.0 638.50,378.8 644.59,376.5 650.67,375.2 656.75,376.7 662.84,374.9 668.92,375.7 675.00,378.3 681.09,376.5 687.17,377.3 693.25,371.6 699.34,369.3 705.42,373.1 711.50,371.9 717.58,377.8 723.67,371.3 729.75,372.1 735.83,371.6 741.92,368.8 748.00,372.6 754.08,373.4 760.16,376.7 766.25,368.0 772.33,368.0 778.41,369.8 784.50,368.2 790.58,368.0 796.66,363.9 802.75,368.2 808.83,369.0 814.91,358.2 821.00,366.7 827.08,365.2 833.16,365.9 839.24,366.2 845.33,368.2 851.41,361.8 857.49,343.0 863.58,354.0 869.66,352.3 875.74,356.7 881.83,360.0 887.91,363.9 893.99,358.5 900.07,360.0 906.16,355.9 912.24,353.6 918.32,352.3 924.41,358.7 930.49,360.8 936.57,362.6 942.66,349.7 948.74,349.4 954.82,349.3 960.90,346.7 966.99,340.3 973.07,345.7 979.15,330.7 985.24,337.2 991.32,329.4 997.40,319.9 1003.49,321.5 1009.57,320.2 1015.65,320.4 1021.73,312.2 1027.82,305.0 1033.90,291.1 1039.98,290.8 1046.07,287.0 1052.15,293.9 1058.23,302.0 1064.32,267.5 1070.40,262.9 1076.48,258.7 1082.56,244.6 1088.65,258.7 1094.73,256.7 1100.81,251.0 1106.90,237.9 1112.98,233.2 1119.06,238.9 1125.14,245.0 1131.23,248.8 1137.31,266.3 1143.39,286.3 1149.48,314.0 1155.56,349.3 1161.64,380.9 1167.73,346.3 1173.81,341.2 1179.89,355.9 1185.97,359.0 1192.06,362.6 1198.14,369.8 1204.22,363.6 1210.31,360.0 1216.39,364.4 1222.47,365.9 1228.56,366.2 1234.64,368.2 1240.72,366.4 1246.81,359.2 1252.89,359.1 1258.97,357.1 1265.05,370.3 1271.14,368.4 1277.22,370.0 1283.30,365.8 1289.39,361.0 1295.47,355.3 1301.55,360.7 1307.64,364.0 1313.72,367.6 1319.80,365.1 1325.88,360.4 1331.97,358.1 1338.05,356.3 1344.13,357.9 1350.22,359.1" fill="none" stroke="#2343a8" stroke-width="2" stroke-linejoin="miter" stroke-miterlimit="10"/>
<circle cx="425.60" cy="389.9" r="2.8" fill="#2343a8" stroke="#fff" stroke-width="0.9"/>
<circle cx="431.68" cy="387.8" r="2.8" fill="#2343a8" stroke="#fff" stroke-width="0.9"/>
<circle cx="437.77" cy="381.4" r="2.8" fill="#2343a8" stroke="#fff" stroke-width="0.9"/>
<circle cx="443.85" cy="379.6" r="2.8" fill="#2343a8" stroke="#fff" stroke-width="0.9"/>
<circle cx="449.93" cy="381.1" r="2.8" fill="#2343a8" stroke="#fff" stroke-width="0.9"/>
<circle cx="456.02" cy="381.1" r="2.8" fill="#2343a8" stroke="#fff" stroke-width="0.9"/>
<circle cx="462.10" cy="386.8" r="2.8" fill="#2343a8" stroke="#fff" stroke-width="0.9"/>
<circle cx="468.18" cy="383.7" r="2.8" fill="#2343a8" stroke="#fff" stroke-width="0.9"/>
<circle cx="474.26" cy="382.2" r="2.8" fill="#2343a8" stroke="#fff" stroke-width="0.9"/>
<circle cx="480.35" cy="381.9" r="2.8" fill="#2343a8" stroke="#fff" stroke-width="0.9"/>
<circle cx="486.43" cy="380.9" r="2.8" fill="#2343a8" stroke="#fff" stroke-width="0.9"/>
<circle cx="492.51" cy="379.1" r="2.8" fill="#2343a8" stroke="#fff" stroke-width="0.9"/>
<circle cx="498.60" cy="383.7" r="2.8" fill="#2343a8" stroke="#fff" stroke-width="0.9"/>
<circle cx="504.68" cy="389.1" r="2.8" fill="#2343a8" stroke="#fff" stroke-width="0.9"/>
<circle cx="510.76" cy="384.5" r="2.8" fill="#2343a8" stroke="#fff" stroke-width="0.9"/>
<circle cx="516.85" cy="384.2" r="2.8" fill="#2343a8" stroke="#fff" stroke-width="0.9"/>
<circle cx="522.93" cy="380.1" r="2.8" fill="#2343a8" stroke="#fff" stroke-width="0.9"/>
<circle cx="529.01" cy="381.9" r="2.8" fill="#2343a8" stroke="#fff" stroke-width="0.9"/>
<circle cx="535.09" cy="384.0" r="2.8" fill="#2343a8" stroke="#fff" stroke-width="0.9"/>
<circle cx="541.18" cy="384.2" r="2.8" fill="#2343a8" stroke="#fff" stroke-width="0.9"/>
<circle cx="547.26" cy="387.8" r="2.8" fill="#2343a8" stroke="#fff" stroke-width="0.9"/>
<circle cx="553.34" cy="387.6" r="2.8" fill="#2343a8" stroke="#fff" stroke-width="0.9"/>
<circle cx="559.43" cy="384.2" r="2.8" fill="#2343a8" stroke="#fff" stroke-width="0.9"/>
<circle cx="565.51" cy="383.2" r="2.8" fill="#2343a8" stroke="#fff" stroke-width="0.9"/>
<circle cx="571.59" cy="379.8" r="2.8" fill="#2343a8" stroke="#fff" stroke-width="0.9"/>
<circle cx="577.68" cy="381.6" r="2.8" fill="#2343a8" stroke="#fff" stroke-width="0.9"/>
<circle cx="583.76" cy="384.2" r="2.8" fill="#2343a8" stroke="#fff" stroke-width="0.9"/>
<circle cx="589.84" cy="387.0" r="2.8" fill="#2343a8" stroke="#fff" stroke-width="0.9"/>
<circle cx="595.92" cy="385.8" r="2.8" fill="#2343a8" stroke="#fff" stroke-width="0.9"/>
<circle cx="602.01" cy="384.0" r="2.8" fill="#2343a8" stroke="#fff" stroke-width="0.9"/>
<circle cx="608.09" cy="381.1" r="2.8" fill="#2343a8" stroke="#fff" stroke-width="0.9"/>
<circle cx="614.17" cy="379.6" r="2.8" fill="#2343a8" stroke="#fff" stroke-width="0.9"/>
<circle cx="620.26" cy="380.1" r="2.8" fill="#2343a8" stroke="#fff" stroke-width="0.9"/>
<circle cx="626.34" cy="383.2" r="2.8" fill="#2343a8" stroke="#fff" stroke-width="0.9"/>
<circle cx="632.42" cy="385.0" r="2.8" fill="#2343a8" stroke="#fff" stroke-width="0.9"/>
<circle cx="638.50" cy="378.8" r="2.8" fill="#2343a8" stroke="#fff" stroke-width="0.9"/>
<circle cx="644.59" cy="376.5" r="2.8" fill="#2343a8" stroke="#fff" stroke-width="0.9"/>
<circle cx="650.67" cy="375.2" r="2.8" fill="#2343a8" stroke="#fff" stroke-width="0.9"/>
<circle cx="656.75" cy="376.7" r="2.8" fill="#2343a8" stroke="#fff" stroke-width="0.9"/>
<circle cx="662.84" cy="374.9" r="2.8" fill="#2343a8" stroke="#fff" stroke-width="0.9"/>
<circle cx="668.92" cy="375.7" r="2.8" fill="#2343a8" stroke="#fff" stroke-width="0.9"/>
<circle cx="675.00" cy="378.3" r="2.8" fill="#2343a8" stroke="#fff" stroke-width="0.9"/>
<circle cx="681.09" cy="376.5" r="2.8" fill="#2343a8" stroke="#fff" stroke-width="0.9"/>
<circle cx="687.17" cy="377.3" r="2.8" fill="#2343a8" stroke="#fff" stroke-width="0.9"/>
<circle cx="693.25" cy="371.6" r="2.8" fill="#2343a8" stroke="#fff" stroke-width="0.9"/>
<circle cx="699.34" cy="369.3" r="2.8" fill="#2343a8" stroke="#fff" stroke-width="0.9"/>
<circle cx="705.42" cy="373.1" r="2.8" fill="#2343a8" stroke="#fff" stroke-width="0.9"/>
<circle cx="711.50" cy="371.9" r="2.8" fill="#2343a8" stroke="#fff" stroke-width="0.9"/>
<circle cx="717.58" cy="377.8" r="2.8" fill="#2343a8" stroke="#fff" stroke-width="0.9"/>
<circle cx="723.67" cy="371.3" r="2.8" fill="#2343a8" stroke="#fff" stroke-width="0.9"/>
<circle cx="729.75" cy="372.1" r="2.8" fill="#2343a8" stroke="#fff" stroke-width="0.9"/>
<circle cx="735.83" cy="371.6" r="2.8" fill="#2343a8" stroke="#fff" stroke-width="0.9"/>
<circle cx="741.92" cy="368.8" r="2.8" fill="#2343a8" stroke="#fff" stroke-width="0.9"/>
<circle cx="748.00" cy="372.6" r="2.8" fill="#2343a8" stroke="#fff" stroke-width="0.9"/>
<circle cx="754.08" cy="373.4" r="2.8" fill="#2343a8" stroke="#fff" stroke-width="0.9"/>
<circle cx="760.16" cy="376.7" r="2.8" fill="#2343a8" stroke="#fff" stroke-width="0.9"/>
<circle cx="766.25" cy="368.0" r="2.8" fill="#2343a8" stroke="#fff" stroke-width="0.9"/>
<circle cx="772.33" cy="368.0" r="2.8" fill="#2343a8" stroke="#fff" stroke-width="0.9"/>
<circle cx="778.41" cy="369.8" r="2.8" fill="#2343a8" stroke="#fff" stroke-width="0.9"/>
<circle cx="784.50" cy="368.2" r="2.8" fill="#2343a8" stroke="#fff" stroke-width="0.9"/>
<circle cx="790.58" cy="368.0" r="2.8" fill="#2343a8" stroke="#fff" stroke-width="0.9"/>
<circle cx="796.66" cy="363.9" r="2.8" fill="#2343a8" stroke="#fff" stroke-width="0.9"/>
<circle cx="802.75" cy="368.2" r="2.8" fill="#2343a8" stroke="#fff" stroke-width="0.9"/>
<circle cx="808.83" cy="369.0" r="2.8" fill="#2343a8" stroke="#fff" stroke-width="0.9"/>
<circle cx="814.91" cy="358.2" r="2.8" fill="#2343a8" stroke="#fff" stroke-width="0.9"/>
<circle cx="821.00" cy="366.7" r="2.8" fill="#2343a8" stroke="#fff" stroke-width="0.9"/>
<circle cx="827.08" cy="365.2" r="2.8" fill="#2343a8" stroke="#fff" stroke-width="0.9"/>
<circle cx="833.16" cy="365.9" r="2.8" fill="#2343a8" stroke="#fff" stroke-width="0.9"/>
<circle cx="839.24" cy="366.2" r="2.8" fill="#2343a8" stroke="#fff" stroke-width="0.9"/>
<circle cx="845.33" cy="368.2" r="2.8" fill="#2343a8" stroke="#fff" stroke-width="0.9"/>
<circle cx="851.41" cy="361.8" r="2.8" fill="#2343a8" stroke="#fff" stroke-width="0.9"/>
<circle cx="857.49" cy="343.0" r="2.8" fill="#2343a8" stroke="#fff" stroke-width="0.9"/>
<circle cx="863.58" cy="354.0" r="2.8" fill="#2343a8" stroke="#fff" stroke-width="0.9"/>
<circle cx="869.66" cy="352.3" r="2.8" fill="#2343a8" stroke="#fff" stroke-width="0.9"/>
<circle cx="875.74" cy="356.7" r="2.8" fill="#2343a8" stroke="#fff" stroke-width="0.9"/>
<circle cx="881.83" cy="360.0" r="2.8" fill="#2343a8" stroke="#fff" stroke-width="0.9"/>
<circle cx="887.91" cy="363.9" r="2.8" fill="#2343a8" stroke="#fff" stroke-width="0.9"/>
<circle cx="893.99" cy="358.5" r="2.8" fill="#2343a8" stroke="#fff" stroke-width="0.9"/>
<circle cx="900.07" cy="360.0" r="2.8" fill="#2343a8" stroke="#fff" stroke-width="0.9"/>
<circle cx="906.16" cy="355.9" r="2.8" fill="#2343a8" stroke="#fff" stroke-width="0.9"/>
<circle cx="912.24" cy="353.6" r="2.8" fill="#2343a8" stroke="#fff" stroke-width="0.9"/>
<circle cx="918.32" cy="352.3" r="2.8" fill="#2343a8" stroke="#fff" stroke-width="0.9"/>
<circle cx="924.41" cy="358.7" r="2.8" fill="#2343a8" stroke="#fff" stroke-width="0.9"/>
<circle cx="930.49" cy="360.8" r="2.8" fill="#2343a8" stroke="#fff" stroke-width="0.9"/>
<circle cx="936.57" cy="362.6" r="2.8" fill="#2343a8" stroke="#fff" stroke-width="0.9"/>
<circle cx="942.66" cy="349.7" r="2.8" fill="#2343a8" stroke="#fff" stroke-width="0.9"/>
<circle cx="948.74" cy="349.4" r="2.8" fill="#2343a8" stroke="#fff" stroke-width="0.9"/>
<circle cx="954.82" cy="349.3" r="2.8" fill="#2343a8" stroke="#fff" stroke-width="0.9"/>
<circle cx="960.90" cy="346.7" r="2.8" fill="#2343a8" stroke="#fff" stroke-width="0.9"/>
<circle cx="966.99" cy="340.3" r="2.8" fill="#2343a8" stroke="#fff" stroke-width="0.9"/>
<circle cx="973.07" cy="345.7" r="2.8" fill="#2343a8" stroke="#fff" stroke-width="0.9"/>
<circle cx="979.15" cy="330.7" r="2.8" fill="#2343a8" stroke="#fff" stroke-width="0.9"/>
<circle cx="985.24" cy="337.2" r="2.8" fill="#2343a8" stroke="#fff" stroke-width="0.9"/>
<circle cx="991.32" cy="329.4" r="2.8" fill="#2343a8" stroke="#fff" stroke-width="0.9"/>
<circle cx="997.40" cy="319.9" r="2.8" fill="#2343a8" stroke="#fff" stroke-width="0.9"/>
<circle cx="1003.49" cy="321.5" r="2.8" fill="#2343a8" stroke="#fff" stroke-width="0.9"/>
<circle cx="1009.57" cy="320.2" r="2.8" fill="#2343a8" stroke="#fff" stroke-width="0.9"/>
<circle cx="1015.65" cy="320.4" r="2.8" fill="#2343a8" stroke="#fff" stroke-width="0.9"/>
<circle cx="1021.73" cy="312.2" r="2.8" fill="#2343a8" stroke="#fff" stroke-width="0.9"/>
<circle cx="1027.82" cy="305.0" r="2.8" fill="#2343a8" stroke="#fff" stroke-width="0.9"/>
<circle cx="1033.90" cy="291.1" r="2.8" fill="#2343a8" stroke="#fff" stroke-width="0.9"/>
<circle cx="1039.98" cy="290.8" r="2.8" fill="#2343a8" stroke="#fff" stroke-width="0.9"/>
<circle cx="1046.07" cy="287.0" r="2.8" fill="#2343a8" stroke="#fff" stroke-width="0.9"/>
<circle cx="1052.15" cy="293.9" r="2.8" fill="#2343a8" stroke="#fff" stroke-width="0.9"/>
<circle cx="1058.23" cy="302.0" r="2.8" fill="#2343a8" stroke="#fff" stroke-width="0.9"/>
<circle cx="1064.32" cy="267.5" r="2.8" fill="#2343a8" stroke="#fff" stroke-width="0.9"/>
<circle cx="1070.40" cy="262.9" r="2.8" fill="#2343a8" stroke="#fff" stroke-width="0.9"/>
<circle cx="1076.48" cy="258.7" r="2.8" fill="#2343a8" stroke="#fff" stroke-width="0.9"/>
<circle cx="1082.56" cy="244.6" r="2.8" fill="#2343a8" stroke="#fff" stroke-width="0.9"/>
<circle cx="1088.65" cy="258.7" r="2.8" fill="#2343a8" stroke="#fff" stroke-width="0.9"/>
<circle cx="1094.73" cy="256.7" r="2.8" fill="#2343a8" stroke="#fff" stroke-width="0.9"/>
<circle cx="1100.81" cy="251.0" r="2.8" fill="#2343a8" stroke="#fff" stroke-width="0.9"/>
<circle cx="1106.90" cy="237.9" r="2.8" fill="#2343a8" stroke="#fff" stroke-width="0.9"/>
<circle cx="1112.98" cy="233.2" r="2.8" fill="#2343a8" stroke="#fff" stroke-width="0.9"/>
<circle cx="1119.06" cy="238.9" r="2.8" fill="#2343a8" stroke="#fff" stroke-width="0.9"/>
<circle cx="1125.14" cy="245.0" r="2.8" fill="#2343a8" stroke="#fff" stroke-width="0.9"/>
<circle cx="1131.23" cy="248.8" r="2.8" fill="#2343a8" stroke="#fff" stroke-width="0.9"/>
<circle cx="1137.31" cy="266.3" r="2.8" fill="#2343a8" stroke="#fff" stroke-width="0.9"/>
<circle cx="1143.39" cy="286.3" r="2.8" fill="#2343a8" stroke="#fff" stroke-width="0.9"/>
<circle cx="1149.48" cy="314.0" r="2.8" fill="#2343a8" stroke="#fff" stroke-width="0.9"/>
<circle cx="1155.56" cy="349.3" r="2.8" fill="#2343a8" stroke="#fff" stroke-width="0.9"/>
<circle cx="1161.64" cy="380.9" r="2.8" fill="#2343a8" stroke="#fff" stroke-width="0.9"/>
<circle cx="1167.73" cy="346.3" r="2.8" fill="#2343a8" stroke="#fff" stroke-width="0.9"/>
<circle cx="1173.81" cy="341.2" r="2.8" fill="#2343a8" stroke="#fff" stroke-width="0.9"/>
<circle cx="1179.89" cy="355.9" r="2.8" fill="#2343a8" stroke="#fff" stroke-width="0.9"/>
<circle cx="1185.97" cy="359.0" r="2.8" fill="#2343a8" stroke="#fff" stroke-width="0.9"/>
<circle cx="1192.06" cy="362.6" r="2.8" fill="#2343a8" stroke="#fff" stroke-width="0.9"/>
<circle cx="1198.14" cy="369.8" r="2.8" fill="#2343a8" stroke="#fff" stroke-width="0.9"/>
<circle cx="1204.22" cy="363.6" r="2.8" fill="#2343a8" stroke="#fff" stroke-width="0.9"/>
<circle cx="1210.31" cy="360.0" r="2.8" fill="#2343a8" stroke="#fff" stroke-width="0.9"/>
<circle cx="1216.39" cy="364.4" r="2.8" fill="#2343a8" stroke="#fff" stroke-width="0.9"/>
<circle cx="1222.47" cy="365.9" r="2.8" fill="#2343a8" stroke="#fff" stroke-width="0.9"/>
<circle cx="1228.56" cy="366.2" r="2.8" fill="#2343a8" stroke="#fff" stroke-width="0.9"/>
<circle cx="1234.64" cy="368.2" r="2.8" fill="#2343a8" stroke="#fff" stroke-width="0.9"/>
<circle cx="1240.72" cy="366.4" r="2.8" fill="#2343a8" stroke="#fff" stroke-width="0.9"/>
<circle cx="1246.81" cy="359.2" r="2.8" fill="#2343a8" stroke="#fff" stroke-width="0.9"/>
<circle cx="1252.89" cy="359.1" r="2.8" fill="#2343a8" stroke="#fff" stroke-width="0.9"/>
<circle cx="1258.97" cy="357.1" r="2.8" fill="#2343a8" stroke="#fff" stroke-width="0.9"/>
<circle cx="1265.05" cy="370.3" r="2.8" fill="#2343a8" stroke="#fff" stroke-width="0.9"/>
<circle cx="1271.14" cy="368.4" r="2.8" fill="#2343a8" stroke="#fff" stroke-width="0.9"/>
<circle cx="1277.22" cy="370.0" r="2.8" fill="#2343a8" stroke="#fff" stroke-width="0.9"/>
<circle cx="1283.30" cy="365.8" r="2.8" fill="#2343a8" stroke="#fff" stroke-width="0.9"/>
<circle cx="1289.39" cy="361.0" r="2.8" fill="#2343a8" stroke="#fff" stroke-width="0.9"/>
<circle cx="1295.47" cy="355.3" r="2.8" fill="#2343a8" stroke="#fff" stroke-width="0.9"/>
<circle cx="1301.55" cy="360.7" r="2.8" fill="#2343a8" stroke="#fff" stroke-width="0.9"/>
<circle cx="1307.64" cy="364.0" r="2.8" fill="#2343a8" stroke="#fff" stroke-width="0.9"/>
<circle cx="1313.72" cy="367.6" r="2.8" fill="#2343a8" stroke="#fff" stroke-width="0.9"/>
<circle cx="1319.80" cy="365.1" r="2.8" fill="#2343a8" stroke="#fff" stroke-width="0.9"/>
<circle cx="1325.88" cy="360.4" r="2.8" fill="#2343a8" stroke="#fff" stroke-width="0.9"/>
<circle cx="1331.97" cy="358.1" r="2.8" fill="#2343a8" stroke="#fff" stroke-width="0.9"/>
<circle cx="1338.05" cy="356.3" r="2.8" fill="#2343a8" stroke="#fff" stroke-width="0.9"/>
<circle cx="1344.13" cy="357.9" r="2.8" fill="#2343a8" stroke="#fff" stroke-width="0.9"/>
<circle cx="1350.22" cy="359.1" r="2.8" fill="#2343a8" stroke="#fff" stroke-width="0.9"/>
<text x="425.60" y="447.5" class="xl">1</text>
<text x="443.85" y="447.5" class="xl">4</text>
<text x="462.10" y="447.5" class="xl">7</text>
<text x="480.35" y="447.5" class="xl">10</text>
<text x="498.60" y="447.5" class="xl">13</text>
<text x="516.85" y="447.5" class="xl">16</text>
<text x="535.09" y="447.5" class="xl">19</text>
<text x="553.34" y="447.5" class="xl">22</text>
<text x="571.59" y="447.5" class="xl">25</text>
<text x="589.84" y="447.5" class="xl">28</text>
<text x="608.09" y="447.5" class="xl">1</text>
<text x="626.34" y="447.5" class="xl">4</text>
<text x="644.59" y="447.5" class="xl">7</text>
<text x="662.84" y="447.5" class="xl">10</text>
<text x="681.09" y="447.5" class="xl">13</text>
<text x="699.34" y="447.5" class="xl">16</text>
<text x="717.58" y="447.5" class="xl">19</text>
<text x="735.83" y="447.5" class="xl">22</text>
<text x="754.08" y="447.5" class="xl">25</text>
<text x="772.33" y="447.5" class="xl">28</text>
<text x="790.58" y="447.5" class="xl">31</text>
<text x="808.83" y="447.5" class="xl">3</text>
<text x="827.08" y="447.5" class="xl">6</text>
<text x="845.33" y="447.5" class="xl">9</text>
<text x="863.58" y="447.5" class="xl">12</text>
<text x="881.83" y="447.5" class="xl">15</text>
<text x="900.07" y="447.5" class="xl">18</text>
<text x="918.32" y="447.5" class="xl">21</text>
<text x="936.57" y="447.5" class="xl">24</text>
<text x="954.82" y="447.5" class="xl">27</text>
<text x="973.07" y="447.5" class="xl">30</text>
<text x="991.32" y="447.5" class="xl">3</text>
<text x="1009.57" y="447.5" class="xl">6</text>
<text x="1027.82" y="447.5" class="xl">9</text>
<text x="1046.07" y="447.5" class="xl">12</text>
<text x="1064.32" y="447.5" class="xl">15</text>
<text x="1082.56" y="447.5" class="xl">18</text>
<text x="1100.81" y="447.5" class="xl">21</text>
<text x="1119.06" y="447.5" class="xl">24</text>
<text x="1137.31" y="447.5" class="xl">27</text>
<text x="1155.56" y="447.5" class="xl">30</text>
<text x="1173.81" y="447.5" class="xl">2</text>
<text x="1192.06" y="447.5" class="xl">5</text>
<text x="1210.31" y="447.5" class="xl">8</text>
<text x="1228.56" y="447.5" class="xl">11</text>
<text x="1246.81" y="447.5" class="xl">14</text>
<text x="1265.05" y="447.5" class="xl">17</text>
<text x="1283.30" y="447.5" class="xl">20</text>
<text x="1301.55" y="447.5" class="xl">23</text>
<text x="1319.80" y="447.5" class="xl">26</text>
<text x="1338.05" y="447.5" class="xl">29</text>
<text x="422.50" y="434.5" class="ml">Сентябрь</text>
<text x="604.99" y="434.5" class="ml">Октябрь</text>
<text x="793.56" y="434.5" class="ml">Ноябрь</text>
<text x="976.05" y="434.5" class="ml">Декабрь</text>
<text x="1164.63" y="434.5" class="ml">Январь</text>
</svg>
</body></html>
